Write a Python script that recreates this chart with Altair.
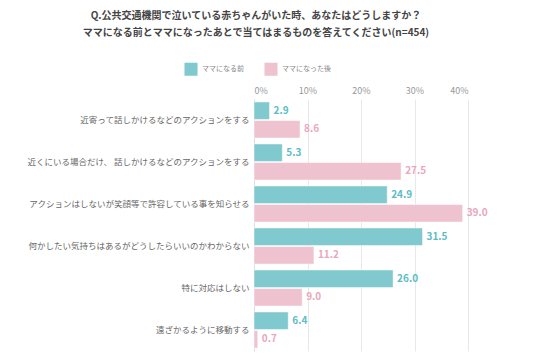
import altair as alt
import pandas as pd

categories = [
    "近寄って話しかけるなどのアクションをする",
    "近くにいる場合だけ、 話しかけるなどのアクションをする",
    "アクションはしないが笑顔等で許容している事を知らせる",
    "何かしたい気持ちはあるがどうしたらいいのかわからない",
    "特に対応はしない",
    "遠ざかるように移動する",
]
series = ["ママになる前", "ママになった後"]
before = [2.9, 5.3, 24.9, 31.5, 26.0, 6.4]
after = [8.6, 27.5, 39.0, 11.2, 9.0, 0.7]
ticks = [0, 10, 20, 30, 40]

bar_colors = ["#80c9cf", "#efc2cf"]
text_colors = ["#5bbcc6", "#eaa7bc"]

rows = []
for c, b, a in zip(categories, before, after):
    rows.append({"cat": c, "series": series[0], "value": b, "tc": text_colors[0]})
    rows.append({"cat": c, "series": series[1], "value": a, "tc": text_colors[1]})
df = pd.DataFrame(rows)

FONT = "Noto Sans CJK JP"

y = alt.Y("cat:N", sort=categories, title=None,
          scale=alt.Scale(paddingInner=0.14, paddingOuter=0.07),
          axis=alt.Axis(ticks=False, domain=True, domainColor="#dddddd",
                        labelColor="#666666", labelFontSize=8.5, labelPadding=5,
                        labelFont=FONT, labelLimit=300))
x = alt.X("value:Q", title=None,
          scale=alt.Scale(domain=[0, 40], nice=False),
          axis=alt.Axis(orient="top", values=ticks, labelExpr="datum.value + '%'",
                        ticks=False, domain=False, grid=True, gridColor="#e8e8e8",
                        labelColor="#999999", labelFontSize=9, labelFont=FONT,
                        labelPadding=4))
yoff = alt.YOffset("series:N", sort=series, scale=alt.Scale(paddingInner=0.06))

bars = alt.Chart(df).mark_bar(stroke="#ffffff", strokeWidth=0.5).encode(
    y=y, x=x, yOffset=yoff,
    color=alt.Color("series:N", sort=series,
                    scale=alt.Scale(domain=series, range=bar_colors),
                    legend=alt.Legend(title=None, orient="none", direction="horizontal",
                                      legendX=-70, legendY=-37, symbolType="square",
                                      symbolSize=170, symbolStrokeWidth=0,
                                      labelFontSize=7, labelColor="#888888",
                                      labelFont=FONT, columnPadding=20, labelOffset=4,
                                      symbolOpacity=1)),
)

labels = alt.Chart(df).mark_text(align="left", dx=4, fontWeight="bold",
                                 fontSize=10, font=FONT).encode(
    y=y, x=x, yOffset=yoff,
    text=alt.Text("value:Q", format=".1f"),
    color=alt.Color("tc:N", scale=None),
)

chart = alt.layer(bars, labels).properties(
    width=214, height=252,
    autosize=alt.AutoSizeParams(type="none"),
    padding={"left": 246, "top": 91, "right": 64, "bottom": 3},
    title=alt.TitleParams(
        text=["Q.公共交通機関で泣いている赤ちゃんがいた時、あなたはどうしますか？",
              "ママになる前とママになったあとで当てはまるものを答えてください(n=454)"],
        anchor="middle", dx=-105, offset=24, fontSize=10, fontWeight="bold",
        color="#444444", font=FONT, lineHeight=17),
).configure_view(stroke=None)

chart.save("out.html", embed_options={"renderer": "svg", "actions": False})
